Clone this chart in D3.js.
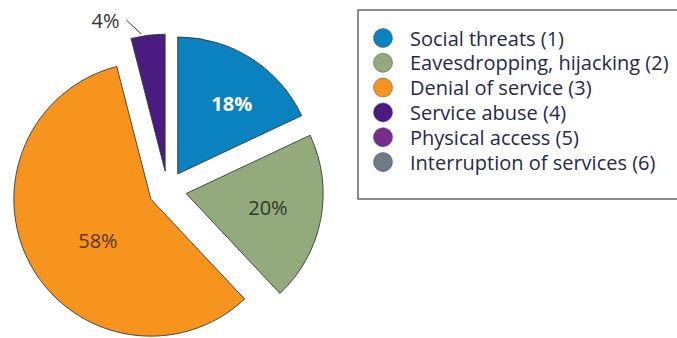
<!DOCTYPE html>
<html>
<head>
<meta charset="utf-8">
<script src="https://cdn.jsdelivr.net/npm/d3@7"></script>
<style>
  html, body { margin: 0; padding: 0; background: #fff; }
  svg { display: block; }
</style>
</head>
<body>
<svg id="chart" width="677" height="338"></svg>
<script>
// ---- data ----
const categories = ["Social threats (1)", "Eavesdropping, hijacking (2)", "Denial of service (3)", "Service abuse (4)", "Physical access (5)", "Interruption of services (6)"];
const values = [18, 20, 58, 4, 0, 0];
const valueLabels = ["18%", "20%", "58%", "4%"];
const colors = ["#0a82c0", "#92aa7c", "#f7941e", "#4a1c82", "#7a2c8c", "#6b7c88"];

// ---- layout ----
const svg = d3.select("#chart");
const cx = 167.5, cy = 190, R = 137, explode = 19;
const font = "'Open Sans', 'Noto Sans', sans-serif";

const data = categories.map((c, i) => ({ name: c, value: values[i], color: colors[i], label: valueLabels[i] }));
const pie = d3.pie().sort(null).value(d => d.value);
const arcs = pie(data).filter(d => d.value > 0);
const arc = d3.arc().innerRadius(0).outerRadius(R);

const g = svg.append("g").attr("transform", `translate(${cx},${cy})`);

function offset(d, dist, shiftDeg = 0) {
  const a = (d.startAngle + d.endAngle) / 2 + shiftDeg * Math.PI / 180;
  return [Math.sin(a) * dist, -Math.cos(a) * dist];
}

const slices = g.selectAll("g.slice").data(arcs).join("g")
  .attr("class", "slice")
  .attr("transform", d => { const [x, y] = offset(d, explode); return `translate(${x},${y})`; });

slices.append("path")
  .attr("d", arc)
  .attr("fill", d => d.data.color)
  .attr("stroke", "#3a3a3a")
  .attr("stroke-width", 0.9)
  .attr("stroke-linejoin", "round");

// inside labels
const labelR = [89, 83, 67];
const labelShift = [5, -1, -9];
const labelStyle = [
  { fill: "#ffffff", weight: "bold" },
  { fill: "#2e3a28", weight: "normal" },
  { fill: "#5a3414", weight: "normal" }
];
slices.filter((d, i) => i < 3).append("text")
  .attr("x", (d, i) => offset(d, labelR[i], labelShift[i])[0])
  .attr("y", (d, i) => offset(d, labelR[i], labelShift[i])[1])
  .attr("text-anchor", "middle")
  .attr("dominant-baseline", "central")
  .attr("font-family", font)
  .attr("font-size", 20)
  .attr("font-weight", (d, i) => labelStyle[i].weight)
  .attr("fill", (d, i) => labelStyle[i].fill)
  .text(d => d.data.label);

// outside label for small slice
const small = arcs[3];
const [sx, sy] = offset(small, explode);
const edge = d3.arc().innerRadius(R - 12).outerRadius(R - 12);
const p = edge.centroid(small);
const ax = p[0] + sx, ay = p[1] + sy;
g.append("line")
  .attr("x1", ax - 8).attr("y1", ay - 13)
  .attr("x2", ax - 23).attr("y2", ay - 27)
  .attr("stroke", "#3a3a3a").attr("stroke-width", 1);
g.append("text")
  .attr("x", ax - 30).attr("y", ay - 27)
  .attr("text-anchor", "end")
  .attr("dominant-baseline", "central")
  .attr("font-family", font)
  .attr("font-size", 20)
  .attr("fill", "#333")
  .text(small.data.label);

// ---- legend ----
const lx = 358, ly = 10, lw = 330, lh = 189;
svg.append("rect")
  .attr("x", lx).attr("y", ly).attr("width", lw).attr("height", lh)
  .attr("fill", "#fff").attr("stroke", "#666").attr("stroke-width", 1.5);

const rowY = d3.scalePoint().domain(categories).range([38, 162]);
const leg = svg.selectAll("g.leg").data(data).join("g")
  .attr("class", "leg")
  .attr("transform", d => `translate(383,${rowY(d.name)})`);
leg.append("circle").attr("r", 9.5).attr("fill", d => d.color)
  .attr("stroke", "#444").attr("stroke-width", 0.5);
leg.append("text")
  .attr("x", 27).attr("y", 0)
  .attr("dominant-baseline", "central")
  .attr("font-family", font)
  .attr("font-size", 20)
  .attr("fill", "#26294a")
  .text(d => d.name);
</script>
</body>
</html>
